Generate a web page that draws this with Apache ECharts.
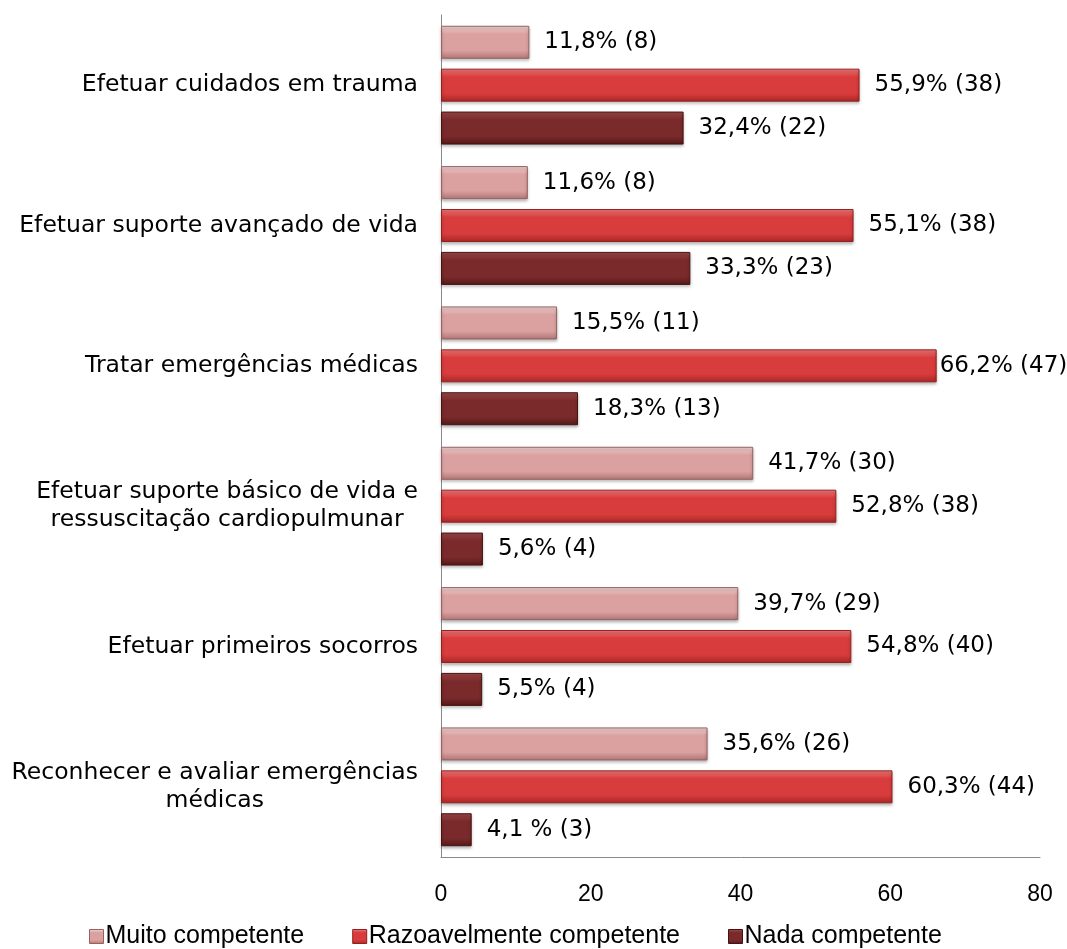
<!DOCTYPE html>
<html>
<head>
<meta charset="utf-8">
<script src="https://cdn.jsdelivr.net/npm/echarts@6/dist/echarts.min.js"></script>
<style>
html, body { margin: 0; padding: 0; background: #fff; }
#chart { width: 1067px; height: 949px; }
</style>
</head>
<body>
<div id="chart"></div>
<script>
// categories, top to bottom
const categories = [
    'Efetuar cuidados em trauma',
    'Efetuar suporte avançado de vida',
    'Tratar emergências médicas',
    'Efetuar suporte básico de vida e\nressuscitação cardiopulmunar',
    'Efetuar primeiros socorros',
    'Reconhecer e avaliar emergências\nmédicas'
];
const seriesNames = ['Muito competente', 'Razoavelmente competente', 'Nada competente'];

const muito = [11.8, 11.6, 15.5, 41.7, 39.7, 35.6];
const razoavel = [55.9, 55.1, 66.2, 52.8, 54.8, 60.3];
const nada = [32.4, 33.3, 18.3, 5.6, 5.5, 4.1];

const muitoLabels = ['11,8% (8)', '11,6% (8)', '15,5% (11)', '41,7% (30)', '39,7% (29)', '35,6% (26)'];
const razoavelLabels = ['55,9% (38)', '55,1% (38)', '66,2% (47)', '52,8% (38)', '54,8% (40)', '60,3% (44)'];
const nadaLabels = ['32,4% (22)', '33,3% (23)', '18,3% (13)', '5,6% (4)', '5,5% (4)', '4,1 % (3)'];

const xTicks = [0, 20, 40, 60, 80];

const labelFont = 'DejaVu Sans';
const axisFont = 'Liberation Sans';

function grad(top, mid, bottom) {
    return new echarts.graphic.LinearGradient(0, 0, 0, 1, [
        { offset: 0, color: top },
        { offset: 0.25, color: mid },
        { offset: 0.75, color: mid },
        { offset: 1, color: bottom }
    ]);
}

const styles = [
    { fill: grad('#f4d6d6', '#dba0a0', '#b07474'), border: '#96625f', legend: '#dba0a0' },
    { fill: grad('#f27c7c', '#d83c3c', '#a82626'), border: '#942020', legend: '#d83c3c' },
    { fill: grad('#a04a4a', '#7a2a2a', '#541818'), border: '#461212', legend: '#7a2a2a' }
];

function makeSeries(i, values, labels) {
    return {
        name: seriesNames[i],
        type: 'bar',
        barWidth: 33,
        barGap: '30%',
        data: values,
        itemStyle: {
            color: styles[i].fill,
            borderColor: styles[i].border,
            borderWidth: 1,
            shadowColor: 'rgba(0,0,0,0.3)',
            shadowBlur: 3,
            shadowOffsetY: 2
        },
        label: {
            show: true,
            position: 'right',
            distance: 15,
            color: '#000',
            fontFamily: labelFont,
            fontSize: 23,
            formatter: p => labels[p.dataIndex]
        }
    };
}

const series = [
    makeSeries(0, muito, muitoLabels),
    makeSeries(1, razoavel, razoavelLabels),
    makeSeries(2, nada, nadaLabels)
];
// long label that would run off the page sits right against its bar
series[1].data = razoavel.map(v => v > 65 ? { value: v, label: { distance: 3 } } : v);

const chart = echarts.init(document.getElementById('chart'));
chart.setOption({
    backgroundColor: '#fff',
    animation: false,
    color: styles.map(s => s.legend),
    grid: {
        left: 441,
        right: 27,
        top: 15,
        bottom: 92
    },
    legend: {
        top: 919,
        left: 84,
        itemWidth: 14,
        itemHeight: 14,
        itemGap: 48,
        icon: 'rect',
        textStyle: {
            fontFamily: axisFont,
            fontSize: 25,
            color: '#000',
            padding: [0, 0, 0, -3]
        },
        data: seriesNames.map((n, i) => ({
            name: n,
            itemStyle: { color: styles[i].fill, borderColor: styles[i].border, borderWidth: 1 }
        }))
    },
    xAxis: {
        type: 'value',
        min: xTicks[0],
        max: xTicks[xTicks.length - 1],
        interval: 20,
        axisLine: { show: true, lineStyle: { color: '#888', width: 1 } },
        axisTick: { show: false },
        splitLine: { show: false },
        axisLabel: {
            margin: 26,
            color: '#000',
            fontFamily: axisFont,
            fontSize: 23
        }
    },
    yAxis: {
        type: 'category',
        inverse: true,
        data: categories,
        axisLine: { show: true, lineStyle: { color: '#888', width: 1 } },
        axisTick: { show: false },
        axisLabel: {
            margin: 23,
            color: '#000',
            fontFamily: labelFont,
            fontSize: 23.5,
            lineHeight: 28,
            formatter: v => v.split('\n').map(l => '{c|' + l + '}').join('\n'),
            rich: {
                c: { align: 'center', fontFamily: labelFont, fontSize: 23.5, lineHeight: 28, color: '#000' }
            }
        }
    },
    series: series
});
</script>
</body>
</html>
